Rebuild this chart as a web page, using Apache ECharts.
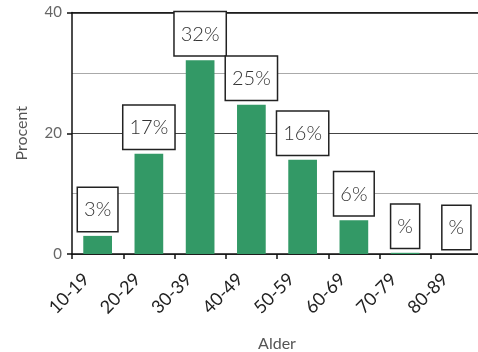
<!DOCTYPE html>
<html>
<head>
<meta charset="utf-8">
<script src="https://cdn.jsdelivr.net/npm/echarts@6/dist/echarts.min.js"></script>
<style>html,body{margin:0;padding:0;background:#fff}#c{width:478px;height:352px}</style>
</head>
<body>
<div id="c"></div>
<script>
var categories = ['10-19','20-29','30-39','40-49','50-59','60-69','70-79','80-89'];
var values = [3.0, 16.6, 32.1, 24.7, 15.6, 5.6, 0.2, 0];
var labelTexts = ['3%','17%','32%','25%','16%','6%','%','%'];
var yTicks = [0, 20, 40];

var chart = echarts.init(document.getElementById('c'));
var FONT = 'Lato, "Open Sans", "DejaVu Sans", sans-serif';
chart.setOption({
  animation: false,
  textStyle: {fontFamily: FONT},
  grid: {left: 72, right: -4, top: 12.5, bottom: 98, containLabel: false, outerBoundsMode: 'none'},
  xAxis: [{
    type: 'category',
    data: categories,
    name: 'Alder',
    nameLocation: 'middle',
    nameGap: 82,
    nameTextStyle: {fontSize: 16, color: '#555', fontFamily: FONT},
    axisLine: {lineStyle: {color: '#111', width: 1.5}},
    axisTick: {show: true, length: 5, lineStyle: {color: '#111', width: 1.5}},
    axisLabel: {rotate: 45, interval: 0, fontSize: 18, color: '#222', margin: 11,
      padding: [0, 16, 0, 0], fontFamily: FONT}
  }, {
    type: 'category',
    data: categories,
    position: 'top',
    axisLine: {show: true, lineStyle: {color: '#111', width: 1.5}},
    axisTick: {show: false},
    axisLabel: {show: false}
  }],
  yAxis: {
    type: 'value',
    min: yTicks[0],
    max: yTicks[yTicks.length - 1],
    interval: 20,
    name: 'Procent',
    nameLocation: 'middle',
    nameGap: 42,
    nameTextStyle: {fontSize: 16, color: '#555', fontFamily: FONT},
    axisLine: {show: true, lineStyle: {color: '#111', width: 1.5}},
    axisTick: {show: true, length: 5, lineStyle: {color: '#111', width: 1.5}},
    axisLabel: {fontSize: 15, color: '#666', margin: 10, fontFamily: FONT},
    splitLine: {show: true, lineStyle: {color: '#444', width: 1}},
    minorTick: {show: false, splitNumber: 2},
    minorSplitLine: {show: true, lineStyle: {color: '#aaa', width: 1}}
  },
  series: [{
    type: 'bar',
    data: values,
    barWidth: '56%',
    itemStyle: {color: '#339966'},
    label: {
      show: true,
      position: 'top',
      distance: 5,
      formatter: function (p) { return labelTexts[p.dataIndex]; },
      fontSize: 20,
      fontWeight: 300,
      color: '#333',
      backgroundColor: '#fff',
      borderColor: '#222',
      borderWidth: 1.5,
      padding: [12, 6, 11, 6],
      fontFamily: FONT
    }
  }]
});
</script>
</body>
</html>
